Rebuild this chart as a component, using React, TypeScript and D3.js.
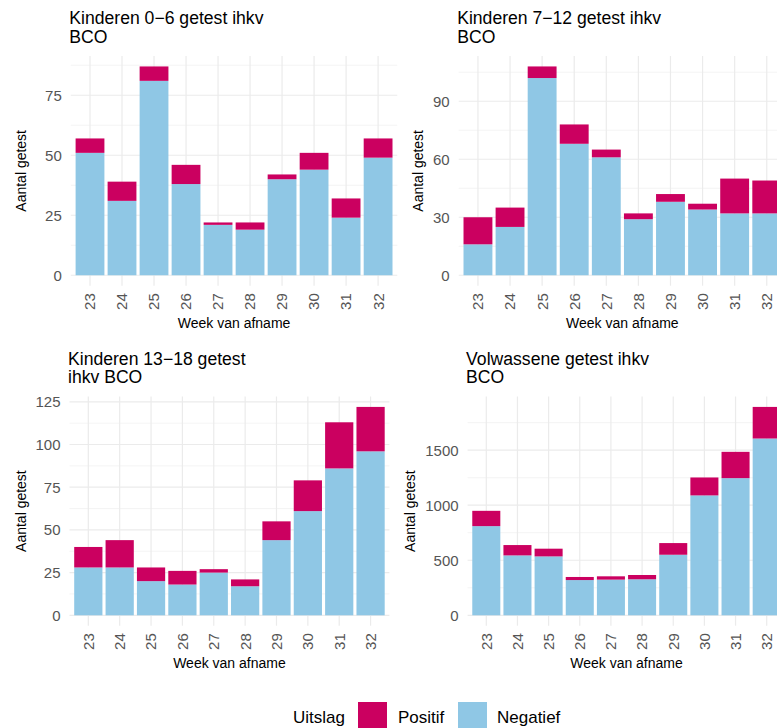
import * as d3 from "d3";

const weeks = ["23", "24", "25", "26", "27", "28", "29", "30", "31", "32"];

const neg0to6 = [51, 31, 81, 38, 21, 19, 40, 44, 24, 49];
const pos0to6 = [6, 8, 6, 8, 1, 3, 2, 7, 8, 8];

const neg7to12 = [16, 25, 102, 68, 61, 29, 38, 34, 32, 32];
const pos7to12 = [14, 10, 6, 10, 4, 3, 4, 3, 18, 17];

const neg13to18 = [28, 28, 20, 18, 25, 17, 44, 61, 86, 96];
const pos13to18 = [12, 16, 8, 8, 2, 4, 11, 18, 27, 26];

const negAdult = [810, 544, 535, 320, 324, 327, 550, 1089, 1246, 1606];
const posAdult = [139, 94, 70, 28, 30, 39, 106, 163, 239, 287];

const ticks0to6 = [0, 25, 50, 75];
const ticks7to12 = [0, 30, 60, 90];
const ticks13to18 = [0, 25, 50, 75, 100, 125];
const ticksAdult = [0, 500, 1000, 1500];

const POS_COLOR = "#CB0060";
const NEG_COLOR = "#8FC7E5";
const FONT = "'Liberation Sans', Arial, Helvetica, sans-serif";

type PanelProps = {
  title: string[];
  neg: number[];
  pos: number[];
  ticks: number[];
  left: number;
  right: number;
  top: number;
  bottom: number;
  yTitleX: number;
};

const Panel = ({ title, neg, pos, ticks, left, right, top, bottom, yTitleX }: PanelProps) => {
  const rows = weeks.map((w, i) => ({ week: w, neg: neg[i], pos: pos[i] }));
  const series = d3.stack<any>().keys(["neg", "pos"])(rows);
  const max = d3.max(rows, (d) => d.neg + d.pos) as number;

  const x = d3.scaleBand().domain(weeks).range([left, right]).paddingInner(0.1).paddingOuter(0.15);
  const y = d3.scaleLinear().domain([-0.05 * max, 1.05 * max]).range([bottom, top]);

  const step = ticks[1] - ticks[0];
  const minor = ticks.map((t) => t + step / 2).filter((t) => t <= 1.05 * max);
  const xc = (w: string) => (x(w) as number) + x.bandwidth() / 2;
  const midY = (top + bottom) / 2;

  return (
    <g>
      {title.map((line, i) => (
        <text key={i} x={left - 1.5} y={top - 32 + i * 18.5} fontSize={17.6} fill="#000">
          {line}
        </text>
      ))}
      {minor.map((t) => (
        <line key={"m" + t} x1={left} x2={right} y1={y(t)} y2={y(t)} stroke="#EFEFEF" strokeWidth={0.7} />
      ))}
      {ticks.map((t) => (
        <line key={"g" + t} x1={left} x2={right} y1={y(t)} y2={y(t)} stroke="#EBEBEB" strokeWidth={1.2} />
      ))}
      {weeks.map((w) => (
        <line key={"v" + w} x1={xc(w)} x2={xc(w)} y1={top} y2={bottom} stroke="#EBEBEB" strokeWidth={1.2} />
      ))}
      {series.map((s) => (
        <g key={s.key} fill={s.key === "pos" ? POS_COLOR : NEG_COLOR}>
          {s.map((d: any) => (
            <rect
              key={d.data.week}
              x={x(d.data.week)}
              width={x.bandwidth()}
              y={y(d[1])}
              height={y(d[0]) - y(d[1])}
            />
          ))}
        </g>
      ))}
      {ticks.map((t) => (
        <text key={"t" + t} x={left - 9} y={y(t)} dy="0.36em" textAnchor="end" fontSize={15} fill="#555">
          {t}
        </text>
      ))}
      {weeks.map((w) => (
        <text
          key={"x" + w}
          transform={`translate(${xc(w)},${bottom + 7.5}) rotate(-90)`}
          dy="0.36em"
          textAnchor="end"
          fontSize={15}
          fill="#555"
        >
          {w}
        </text>
      ))}
      <text x={(left + right) / 2} y={bottom + 42.5} textAnchor="middle" fontSize={14} fill="#000">
        Week van afname
      </text>
      <text
        transform={`translate(${yTitleX},${midY}) rotate(-90)`}
        dy="0.36em"
        textAnchor="middle"
        fontSize={14}
        fill="#000"
      >
        Aantal getest
      </text>
    </g>
  );
};

export default function App() {
  return (
    <svg
      width={777}
      height={728}
      style={{ position: "absolute", left: 0, top: 0, display: "block", background: "#fff" }}
      fontFamily={FONT}
    >
      <rect width={777} height={728} fill="#fff" />
      <Panel title={["Kinderen 0\u22126 getest ihkv", "BCO"]} neg={neg0to6} pos={pos0to6} ticks={ticks0to6}
        left={70.8} right={397.3} top={56} bottom={285.7} yTitleX={21} />
      <Panel title={["Kinderen 7\u221212 getest ihkv", "BCO"]} neg={neg7to12} pos={pos7to12} ticks={ticks7to12}
        left={458.7} right={786} top={56} bottom={285.7} yTitleX={418} />
      <Panel title={["Kinderen 13\u221218 getest", "ihkv BCO"]} neg={neg13to18} pos={pos13to18} ticks={ticks13to18}
        left={69.5} right={389.4} top={396.5} bottom={625.7} yTitleX={21} />
      <Panel title={["Volwassene getest ihkv", "BCO"]} neg={negAdult} pos={posAdult} ticks={ticksAdult}
        left={467.6} right={785.4} top={396.5} bottom={625.7} yTitleX={410} />
      <g fontSize={17}>
        <text x={293} y={723}>Uitslag</text>
        <rect x={358} y={702} width={29} height={29} fill={POS_COLOR} />
        <text x={398} y={723}>Positif</text>
        <rect x={458} y={702} width={29} height={29} fill={NEG_COLOR} />
        <text x={497} y={723}>Negatief</text>
      </g>
    </svg>
  );
}
